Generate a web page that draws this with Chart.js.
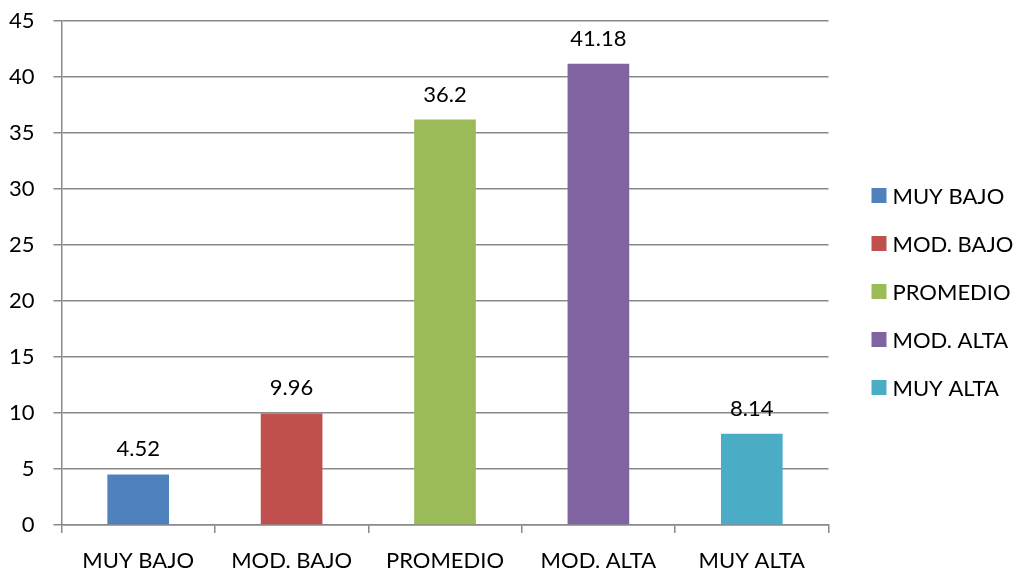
<!DOCTYPE html>
<html>
<head>
<meta charset="utf-8">
<script src="https://cdn.jsdelivr.net/npm/chart.js@4/dist/chart.umd.min.js"></script>
<style>
  html, body { margin: 0; padding: 0; background: #ffffff; }
  #wrap { width: 1021px; height: 573px; }
</style>
</head>
<body>
<div id="wrap"><canvas id="chart" width="1021" height="573"></canvas></div>
<script>
// Categories and their percentages
const categories = ['MUY BAJO', 'MOD. BAJO', 'PROMEDIO', 'MOD. ALTA', 'MUY ALTA'];
const values = [4.52, 9.96, 36.2, 41.18, 8.14];
const barColors = ['#4F81BD', '#C0504D', '#9BBB59', '#8064A2', '#4BACC6'];
const yTicks = [0, 5, 10, 15, 20, 25, 30, 35, 40, 45];

const FONT = 'Lato, "Open Sans", "DejaVu Sans", sans-serif';
const GRID = '#8a8a8a';
const SIZE = 22;

// Writes each bar's value just above it
const valueLabels = {
  id: 'valueLabels',
  afterDatasetsDraw(chart) {
    const { ctx } = chart;
    const meta = chart.getDatasetMeta(0);
    ctx.save();
    ctx.font = SIZE + 'px ' + FONT;
    ctx.fillStyle = '#000000';
    ctx.textAlign = 'center';
    ctx.textBaseline = 'alphabetic';
    meta.data.forEach((bar, i) => {
      ctx.fillText(String(values[i]), bar.x, bar.y - 18);
    });
    ctx.restore();
  }
};

// Vertical legend to the right of the plot: one square swatch per category
const sideLegend = {
  id: 'sideLegend',
  afterDraw(chart) {
    const { ctx, chartArea } = chart;
    const box = 15, gap = 6, step = 48;
    const x = chartArea.right + 43;
    const midY = 291.5;
    const firstY = midY - step * (categories.length - 1) / 2;
    ctx.save();
    ctx.font = SIZE + 'px ' + FONT;
    ctx.textAlign = 'left';
    ctx.textBaseline = 'middle';
    categories.forEach((c, i) => {
      const cy = firstY + i * step;
      ctx.fillStyle = barColors[i];
      ctx.fillRect(x, cy - box / 2, box, box);
      ctx.fillStyle = '#000000';
      ctx.fillText(c, x + box + gap, cy + 1);
    });
    ctx.restore();
  }
};

new Chart(document.getElementById('chart'), {
  type: 'bar',
  data: {
    labels: categories,
    datasets: [{
      data: values,
      backgroundColor: barColors,
      borderWidth: 0,
      categoryPercentage: 1.0,
      barPercentage: 0.402
    }]
  },
  options: {
    responsive: false,
    animation: false,
    devicePixelRatio: 1,
    layout: { padding: { top: 21, right: 192.5, bottom: 0, left: 0 } },
    plugins: {
      tooltip: { enabled: false },
      legend: { display: false }
    },
    scales: {
      x: {
        afterFit: (scale) => {
          scale.height = 48;
          scale.paddingLeft = 0;
          scale.paddingRight = 0;
        },
        grid: {
          offset: true,
          drawOnChartArea: false,
          drawTicks: true,
          tickLength: 8,
          color: GRID,
          lineWidth: 1.5
        },
        border: { color: GRID, width: 1.5 },
        ticks: {
          font: { family: FONT, size: SIZE },
          color: '#000000',
          padding: 15
        }
      },
      y: {
        min: 0,
        max: 45,
        afterBuildTicks: (axis) => { axis.ticks = yTicks.map(v => ({ value: v })); },
        afterFit: (scale) => {
          scale.width = 61.5;
          scale.paddingTop = 0;
          scale.paddingBottom = 0;
        },
        grid: {
          color: GRID,
          lineWidth: 1.5,
          tickLength: 8
        },
        border: { color: GRID, width: 1.5 },
        ticks: {
          font: { family: FONT, size: SIZE },
          color: '#000000',
          padding: 19
        }
      }
    }
  },
  plugins: [valueLabels, sideLegend]
});
</script>
</body>
</html>
